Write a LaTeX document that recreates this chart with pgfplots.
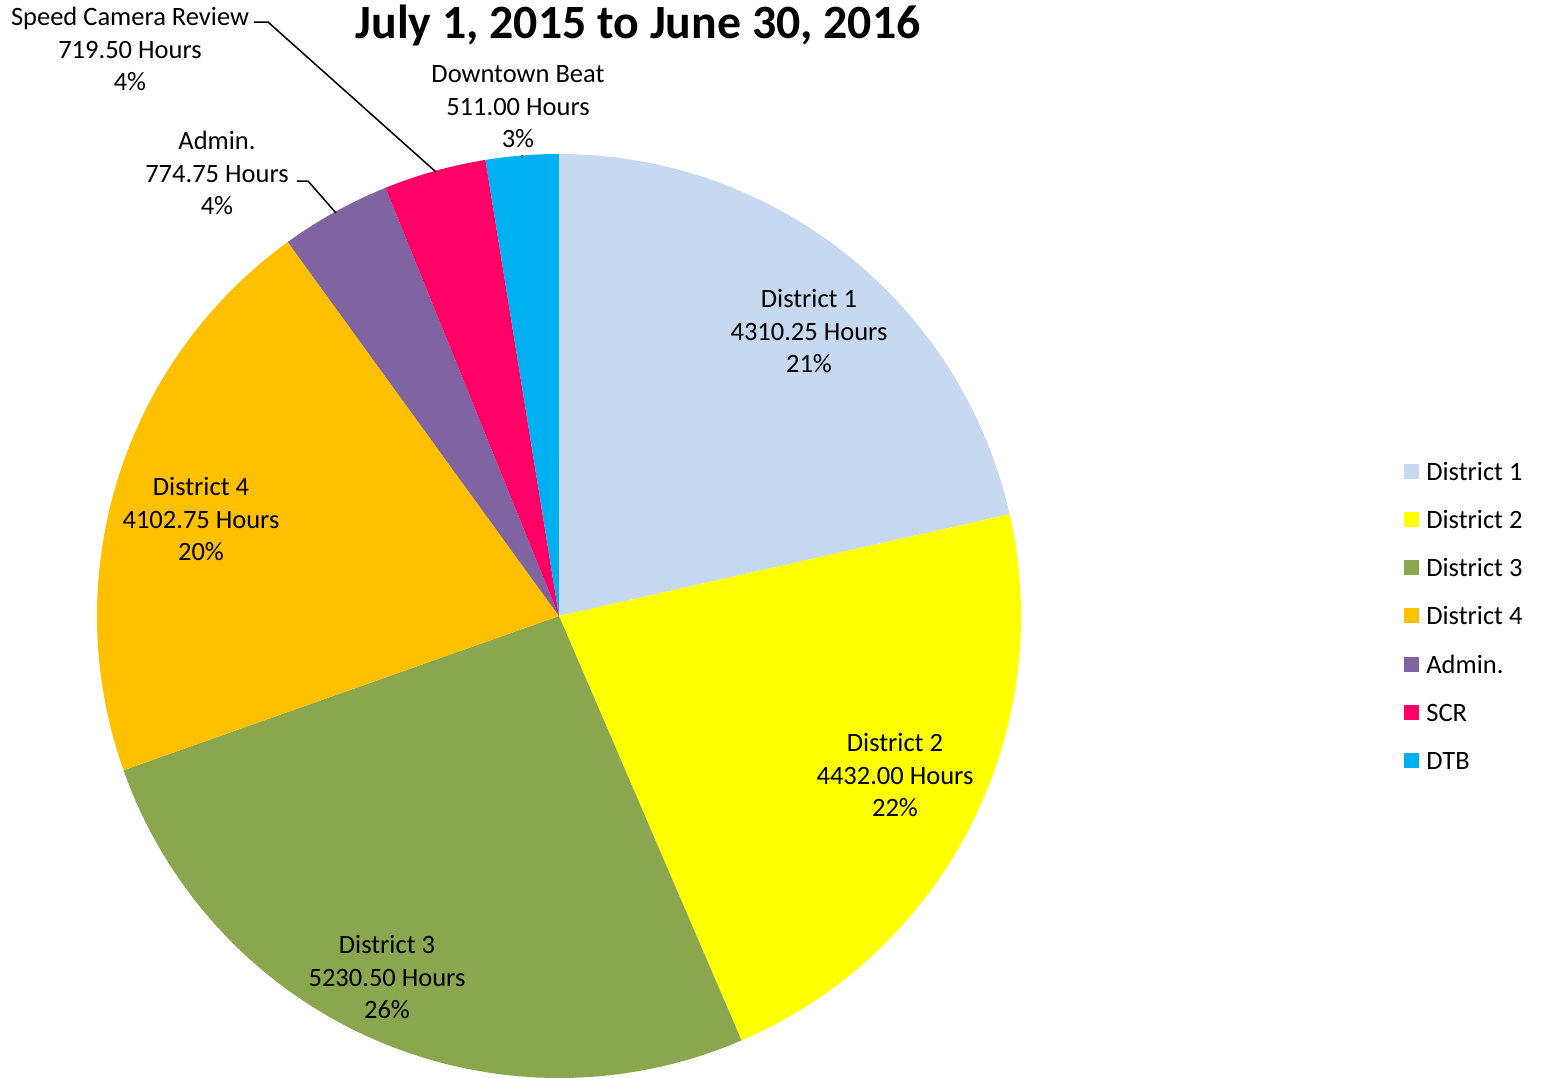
\documentclass[border=0pt]{standalone}
\usepackage{pgfplots}
\pgfplotsset{compat=1.18}
\usepackage{pgfplotstable}
\usepackage{fontspec}
\setmainfont{Carlito}

\definecolor{d1}{HTML}{C6D9F1}
\definecolor{d2}{HTML}{FFFF00}
\definecolor{d3}{HTML}{8AA64E}
\definecolor{d4}{HTML}{FFC000}
\definecolor{adm}{HTML}{8064A2}
\definecolor{scr}{HTML}{FF0066}
\definecolor{dtb}{HTML}{00B0F0}

% hours per unit, clockwise from 12 o'clock
\pgfplotstableread{
value   color
4310.25 d1
4432.00 d2
5230.50 d3
4102.75 d4
774.75  adm
719.50  scr
511.00  dtb
}\piedata

\newcommand\lbl{\fontsize{13.25bp}{16.25bp}\selectfont}

\begin{document}
\begin{tikzpicture}
\begin{axis}[
    x=0.5bp, y=0.5bp,
    xmin=0, xmax=1542, ymin=0, ymax=1078,
    hide axis, clip=false,
    at={(0,0)}, anchor=origin,
]
\pgfplotsextra{
  \gdef\total{0}
  \foreach \i in {0,...,6}{
    \pgfplotstablegetelem{\i}{value}\of\piedata
    \xdef\total{\fpeval{\total+\pgfplotsretval}}
  }
  \gdef\cum{0}
  \foreach \i in {0,...,6}{
    \pgfplotstablegetelem{\i}{value}\of\piedata \let\v\pgfplotsretval
    \pgfplotstablegetelem{\i}{color}\of\piedata \let\c\pgfplotsretval
    \edef\a{\fpeval{90-360*\cum/\total}}
    \edef\b{\fpeval{90-360*(\cum+\v)/\total}}
    \fill[\c] (axis cs:559,462) -- ++(\a:231bp)
      arc[start angle=\a, end angle=\b, radius=231bp] -- cycle;
    \xdef\cum{\fpeval{\cum+\v}}
  }
  % legend
  \foreach \c/\n [count=\k from 0] in {d1/District 1, d2/District 2, d3/District 3,
      d4/District 4, adm/Admin., scr/SCR, dtb/DTB}{
    \pgfmathsetmacro\yy{1078-471-48.3*\k}
    \fill[\c] (axis cs:1404,\yy-7.5) rectangle (axis cs:1419,\yy+7.5);
    \node[anchor=west, inner sep=0pt, font=\lbl] at (axis cs:1426,\yy) {\n};
  }
}
% leader lines
\draw[black, line width=0.75bp] (axis cs:297,897) -- (axis cs:308,897) -- (axis cs:336,865);
\draw[black, line width=0.75bp] (axis cs:254,1056) -- (axis cs:268,1056) -- (axis cs:436,906);
\draw[black!60, line width=0.6bp] (axis cs:522,923) -- (axis cs:522,920);

% data labels
\node[align=center, inner sep=0pt, font=\lbl] at (axis cs:809,747) {District 1\\4310.25 Hours\\21\%};
\node[align=center, inner sep=0pt, font=\lbl] at (axis cs:895,303) {District 2\\4432.00 Hours\\22\%};
\node[align=center, inner sep=0pt, font=\lbl] at (axis cs:387,101) {District 3\\5230.50 Hours\\26\%};
\node[align=center, inner sep=0pt, font=\lbl] at (axis cs:201,559) {District 4\\4102.75 Hours\\20\%};
\node[align=center, inner sep=0pt, font=\lbl] at (axis cs:217,905) {Admin.\\774.75 Hours\\4\%};
\node[align=center, inner sep=0pt, font=\lbl] at (axis cs:130,1029) {Speed Camera Review\\719.50 Hours\\4\%};
\node[align=center, inner sep=0pt, font=\lbl] at (axis cs:518,971) {Downtown Beat\\511.00 Hours\\3\%};

% title
\node[font=\fontsize{23.9bp}{28bp}\selectfont\bfseries] at (axis cs:638,1053) {July 1, 2015 to June 30, 2016};
\end{axis}
\pgfresetboundingbox
\path[use as bounding box] (0,0) rectangle (771bp,539bp);
\end{tikzpicture}
\end{document}
